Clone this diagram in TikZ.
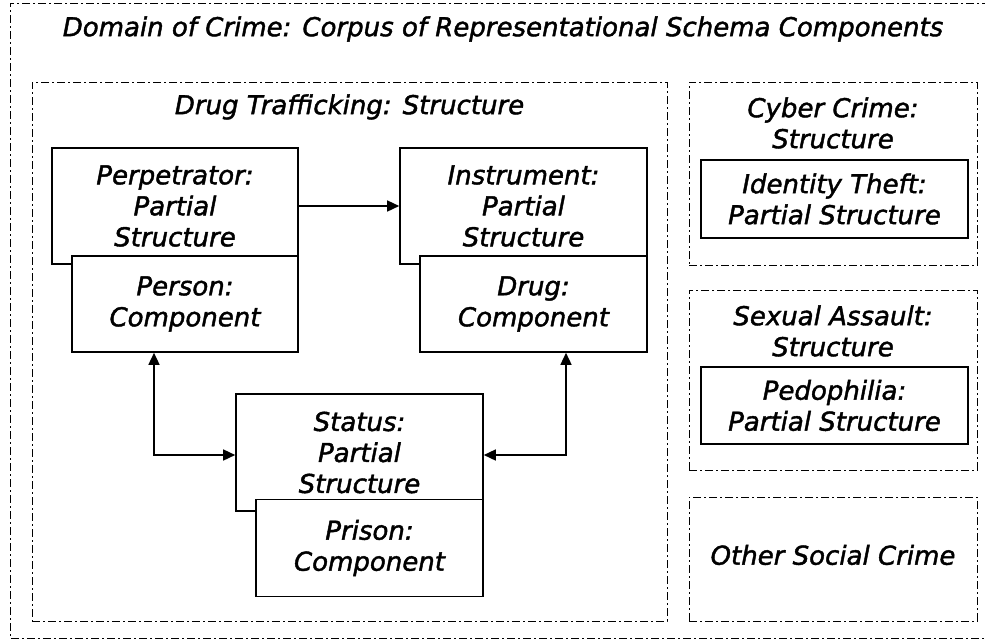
\documentclass[tikz,border=0pt]{standalone}
\usepackage{fontspec}
\setmainfont{DejaVu Sans}[ItalicFeatures={FakeBold=1.6}]
\usetikzlibrary{arrows.meta}
\begin{document}
\begin{tikzpicture}[x=1pt,y=-1pt,
  every node/.style={font=\fontsize{26}{31}\selectfont\itshape},
  frame/.style={draw, line width=1pt, dash pattern=on 8pt off 3pt on 2pt off 3pt, inner sep=0pt},
  part/.style={draw, line width=1.6pt, fill=white, align=center, inner sep=0pt},
  caption/.style={align=center, inner sep=0pt},
  tip/.style={line width=1.5pt, -{Triangle[length=12pt,width=11pt]}},
  twotip/.style={line width=1.5pt, {Triangle[length=12pt,width=11pt]}-{Triangle[length=12pt,width=11pt]}}
]
\useasboundingbox (0,0) rectangle (985,640);

% outer domain frame (open on the right)
\draw[line width=1pt, dash pattern=on 8pt off 3pt on 2pt off 3pt]
  (990,3) -- (10,3) -- (10,638) -- (990,638);
\node[caption] (domain) at (503,29) {Domain of Crime: Corpus of Representational Schema Components};

% drug trafficking structure
\node[frame, minimum width=635pt, minimum height=539pt] (drugframe) at (349.5,351.5) {};
\node[caption] (drugtitle) at (349.5,107) {Drug Trafficking: Structure};

\node[part, minimum width=246pt, minimum height=116pt] (perp) at (175,206) {Perpetrator:\\Partial\\Structure};
\node[part, minimum width=226pt, minimum height=96pt] (person) at (185,304) {Person:\\Component};

\node[part, minimum width=247pt, minimum height=116pt] (instr) at (523.5,206) {Instrument:\\Partial\\Structure};
\node[part, minimum width=227pt, minimum height=96pt] (drug) at (533.5,304) {Drug:\\Component};

\node[part, minimum width=247pt, minimum height=117pt] (status) at (359.5,452.5) {Status:\\Partial\\Structure};
\node[part, minimum width=227pt, minimum height=97pt] (prison) at (369.5,548) {Prison:\\Component};

\coordinate (lbend) at (154,455);
\coordinate (rbend) at (566,455);
\draw[tip] (perp.east) -- (perp.east -| instr.west);
\draw[twotip] (person.south -| lbend) -- (lbend) -- (lbend -| status.west);
\draw[twotip] (drug.south -| rbend) -- (rbend) -- (rbend -| status.east);

% cyber crime
\node[frame, minimum width=288pt, minimum height=183pt] (cyberframe) at (833,173.5) {};
\node[caption] (cybertitle) at (833,123) {Cyber Crime:\\Structure};
\node[part, minimum width=267pt, minimum height=78pt] (identity) at (834.5,199) {Identity Theft:\\Partial Structure};

% sexual assault
\node[frame, minimum width=288pt, minimum height=180pt] (sexframe) at (833,380) {};
\node[caption] (sextitle) at (833,331) {Sexual Assault:\\Structure};
\node[part, minimum width=267pt, minimum height=77pt] (pedo) at (834.5,405.5) {Pedophilia:\\Partial Structure};

% other social crime
\node[frame, minimum width=288pt, minimum height=124pt] (otherframe) at (833,559) {};
\node[caption] (othertitle) at (833,555) {Other Social Crime};
\end{tikzpicture}
\end{document}
